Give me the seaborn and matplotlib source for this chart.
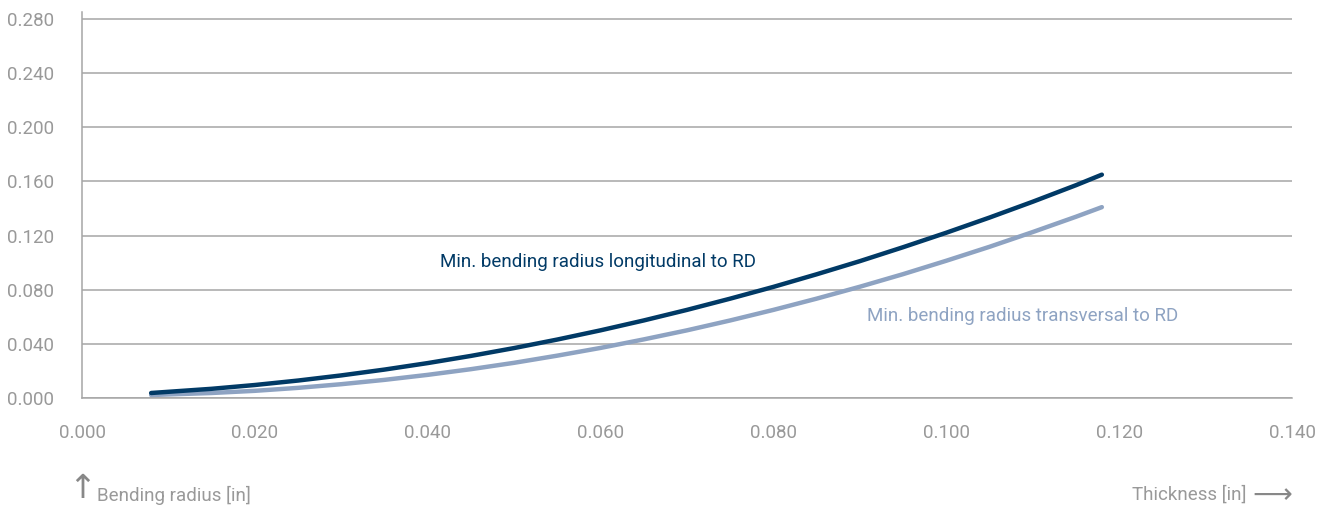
import numpy as np
import pandas as pd
import seaborn as sns
import matplotlib.pyplot as plt

# valores (pulgadas)
thickness = [0.008, 0.015, 0.020, 0.025, 0.030, 0.035, 0.040, 0.045, 0.050,
             0.055, 0.060, 0.065, 0.070, 0.075, 0.080, 0.085, 0.090, 0.095,
             0.100, 0.105, 0.110, 0.115, 0.118]
radius_long = [0.0037, 0.0068, 0.0096, 0.0129, 0.0167, 0.0210, 0.0258, 0.0311,
               0.0369, 0.0432, 0.0500, 0.0573, 0.0651, 0.0734, 0.0821, 0.0914,
               0.1011, 0.1114, 0.1221, 0.1333, 0.1450, 0.1572, 0.1650]
radius_trans = [0.0022, 0.0037, 0.0053, 0.0075, 0.0102, 0.0134, 0.0171, 0.0213,
                0.0260, 0.0313, 0.0370, 0.0433, 0.0500, 0.0573, 0.0651, 0.0734,
                0.0822, 0.0915, 0.1014, 0.1117, 0.1226, 0.1339, 0.1410]

series_names = ["Min. bending radius longitudinal to RD",
                "Min. bending radius transversal to RD"]
colors = ["#013a66", "#8ea3c2"]

x_ticks = [0.000, 0.020, 0.040, 0.060, 0.080, 0.100, 0.120, 0.140]
y_ticks = [0.000, 0.040, 0.080, 0.120, 0.160, 0.200, 0.240, 0.280]

df = pd.DataFrame({
    "Thickness": thickness * 2,
    "Radius": radius_long + radius_trans,
    "Serie": [series_names[0]] * len(thickness) + [series_names[1]] * len(thickness),
})

sns.set_style("white")
plt.rcParams["font.family"] = ["Roboto", "DejaVu Sans"]

gray = "#999999"
fig = plt.figure(figsize=(13.28, 5.07), dpi=100)
ax = fig.add_axes([82 / 1328, 109 / 507, 1210 / 1328, 386 / 507])

sns.lineplot(data=df, x="Thickness", y="Radius", hue="Serie",
             palette=colors, linewidth=3.2, legend=False, ax=ax)
ax.lines[0].set_zorder(4)
ax.lines[1].set_zorder(3)
for ln in ax.lines:
    ln.set_solid_capstyle("round")

ax.set_xlim(0, 0.14)
ax.set_ylim(0, 0.28 + 7 / 1353.6)
ax.set_xticks(x_ticks)
ax.set_yticks(y_ticks)
ax.set_xticklabels([f"{v:.3f}" for v in x_ticks])
ax.set_yticklabels([f"{v:.3f}" for v in y_ticks])
ax.set_xlabel("")
ax.set_ylabel("")

ax.yaxis.grid(True, color="#a6a6a6", linewidth=1.1)
ax.set_axisbelow(True)
sns.despine(ax=ax, top=True, right=True)
for s in ["left", "bottom"]:
    ax.spines[s].set_color("#a6a6a6")
    ax.spines[s].set_linewidth(1.1)
ax.tick_params(axis="both", colors="#a6a6a6", length=6, width=1.1,
               labelcolor=gray, labelsize=13.5)
ax.tick_params(axis="x", pad=13)
ax.tick_params(axis="y", pad=14)

ax.text(0.0414, 0.1005, series_names[0], color=colors[0], fontsize=13.5,
        va="center", ha="left")
ax.text(0.0908, 0.0606, series_names[1], color=colors[1], fontsize=13.5,
        va="center", ha="left")

fig.text(82 / 1328, 1 - 488 / 507, "↑", color="#888888", fontsize=24,
         va="center", ha="center", family=["DejaVu Sans"])
fig.text(97 / 1328, 1 - 495 / 507, "Bending radius [in]", color=gray,
         fontsize=13.5, va="center", ha="left")
fig.text(1247 / 1328, 1 - 495 / 507, "Thickness [in]", color=gray,
         fontsize=13.5, va="center", ha="right")
fig.text(1292 / 1328, 1 - 495 / 507, "⟶", color="#888888", fontsize=20,
         va="center", ha="right", family=["DejaVu Sans"])

fig.savefig("out.png", dpi=100)
